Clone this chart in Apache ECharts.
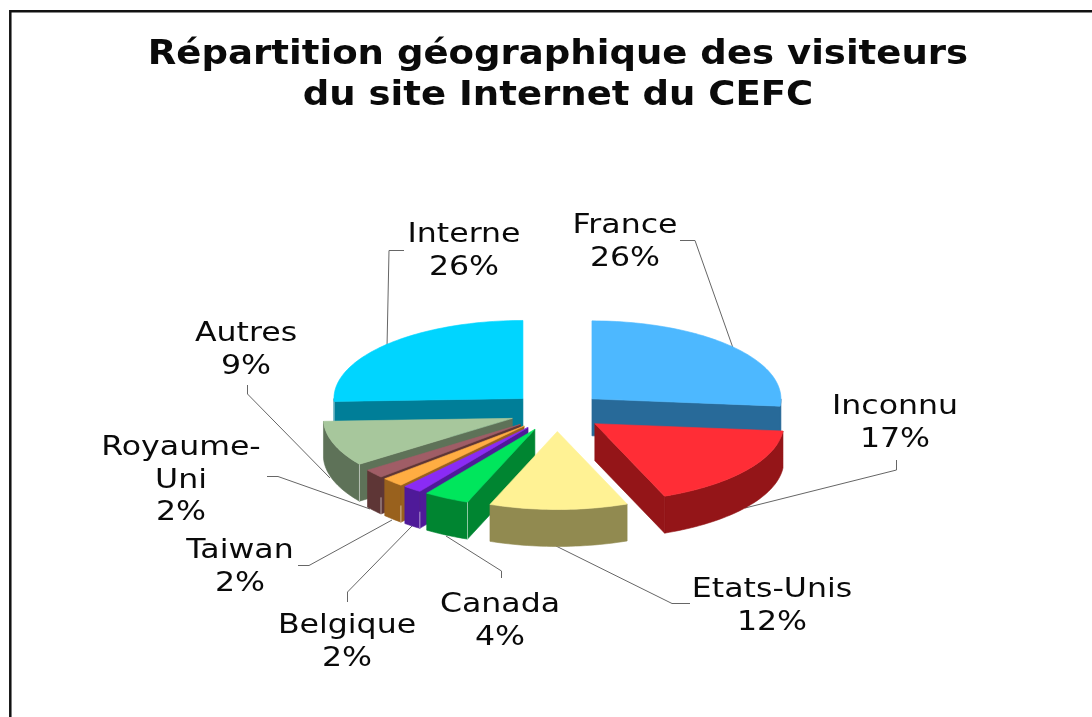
<!DOCTYPE html>
<html><head><meta charset="utf-8">
<style>html,body{margin:0;padding:0;background:#fff}#c{width:1092px;height:717px}</style>
<script src="https://cdn.jsdelivr.net/npm/echarts@6/dist/echarts.min.js"></script>
</head><body><div id="c"></div>
<script>
var names = ['France','Inconnu','Etats-Unis','Canada','Belgique','Taiwan','Royaume-Uni','Autres','Interne'];
var values = [26.49,17.49,11.82,3.9,1.6,1.9,1.8,9.4,25.6];
var titleLines = ['Répartition géographique des visiteurs','du site Internet du CEFC'];
var topColors = ['#4DB8FF','#FF2D36','#FFF294','#00E65C','#8A2BF5','#FFAD42','#A05D66','#A7C79C','#00D5FF'];
var sideColors = ['#286A99','#941518','#918A50','#008531','#4F1A99','#99611D','#5E3636','#5E7258','#007E98'];
var labelLines = {'Royaume-Uni':['Royaume-','Uni']};
// label anchors: [centre x, first line y]
var labelPos = [[625,226],[895,407],[772,590],[500,605],[347,626],[240,551],[181,448],[246,334],[464,235]];
var leaders = [
 [[680,240.5],[695,240.5],[733,348]],
 [[896.5,460],[896.5,470],[745,508]],
 [[690,603.5],[672,603.5],[556,546]],
 [[501.5,578],[501.5,571],[446,536]],
 [[347.5,602],[347.5,592],[412,526]],
 [[298,565.5],[309,565.5],[392,520]],
 [[267,476.5],[278,476.5],[370,509]],
 [[247.5,385],[247.5,394],[330,478]],
 [[404,250.5],[389,250.5],[387,347]]
];
var EXPLODE = 0.25, DEPTH = 0.474, RAD = Math.PI/180;

var total = values.reduce(function(a,b){return a+b;},0), acc = 0;
var rows = values.map(function(v,i){
  var s = acc/total*360; acc += v; var e = acc/total*360;
  return [i,s,e];
});
rows.sort(function(a,b){
  var ma=(a[1]+a[2])/2*RAD, mb=(b[1]+b[2])/2*RAD;
  return (-Math.cos(ma))-(-Math.cos(mb));
});

function renderItem(params, api){
  var i = api.value(0), s = api.value(1), e = api.value(2);
  var mid = (s+e)/2*RAD;
  var ax = EXPLODE*Math.sin(mid), ay = EXPLODE*Math.cos(mid);
  function pt(deg,drop){
    return api.coord([ax+Math.sin(deg*RAD), ay+Math.cos(deg*RAD)-(drop?DEPTH:0)]);
  }
  function ctr(drop){ return api.coord([ax, ay-(drop?DEPTH:0)]); }
  function poly(points,color){
    return {type:'polygon',shape:{points:points},style:{fill:color,stroke:color,lineWidth:0.6}};
  }
  var kids = [], n = Math.max(2,Math.ceil((e-s)/1.5)), top = [ctr(false)], k, a;
  for(k=0;k<=n;k++){ top.push(pt(s+(e-s)*k/n,false)); }
  // outer curved wall, front-facing part only
  var fs = Math.max(s,90), fe = Math.min(e,270);
  if(fe>fs){
    var up=[],down=[];
    var m = Math.max(2,Math.ceil((fe-fs)/1.5));
    for(k=0;k<=m;k++){ a=fs+(fe-fs)*k/m; up.push(pt(a,false)); down.unshift(pt(a,true)); }
    kids.push(poly(up.concat(down),sideColors[i]));
  }
  // cut walls
  if(Math.sin(e*RAD)>0){
    kids.push(poly([ctr(false),pt(e,false),pt(e,true),ctr(true)],sideColors[i]));
  }
  if(Math.sin(s*RAD)<0){
    kids.push(poly([ctr(false),pt(s,false),pt(s,true),ctr(true)],sideColors[i]));
    // pale highlight on the front corner
    var p0=pt(s,false), p1=pt(s,true), f=values[i]<3?0.55:0;
    kids.push({type:'line',shape:{x1:p0[0],y1:p0[1]+(p1[1]-p0[1])*f,x2:p1[0],y2:p1[1]},
      style:{stroke:'rgba(255,255,255,0.55)',lineWidth:1}});
  }
  kids.push(poly(top,topColors[i]));
  return {type:'group',children:kids};
}

function text(str,x,y,font,sx){
  return {type:'text',x:x,y:y,scaleX:sx,z:5,silent:true,
    style:{text:str,font:font,fill:'#0a0a0a',textAlign:'center',textVerticalAlign:'middle'}};
}
var gfx = [
 {type:'polyline',z:1,silent:true,shape:{points:[[10.3,717],[10.3,11.3],[1092,11.3]]},
  style:{fill:null,stroke:'#111',lineWidth:2.5}}
];
leaders.forEach(function(l){
  gfx.push({type:'polyline',z:1,silent:true,shape:{points:l},style:{fill:null,stroke:'#666',lineWidth:1}});
});
titleLines.forEach(function(t,k){
  gfx.push(text(t,558,55+k*41,'bold 33px "DejaVu Sans"',1.123));
});
names.forEach(function(nm,i){
  var ls = (labelLines[nm]||[nm]).concat([Math.round(values[i])+'%']);
  ls.forEach(function(t,k){
    gfx.push(text(t,labelPos[i][0],labelPos[i][1]+k*32.8,'26px "DejaVu Sans"',1.215));
  });
});

var chart = echarts.init(document.getElementById('c'),null,{renderer:'canvas'});
chart.setOption({
  animation:false,
  backgroundColor:'#fff',
  grid:{left:368,top:334,width:378,height:156},
  xAxis:{type:'value',min:-1,max:1,show:false},
  yAxis:{type:'value',min:-1,max:1,show:false},
  graphic:{elements:gfx},
  series:[{type:'custom',coordinateSystem:'cartesian2d',clip:false,silent:true,z:3,
    renderItem:renderItem,data:rows,encode:{x:1,y:2}}]
});
</script></body></html>
